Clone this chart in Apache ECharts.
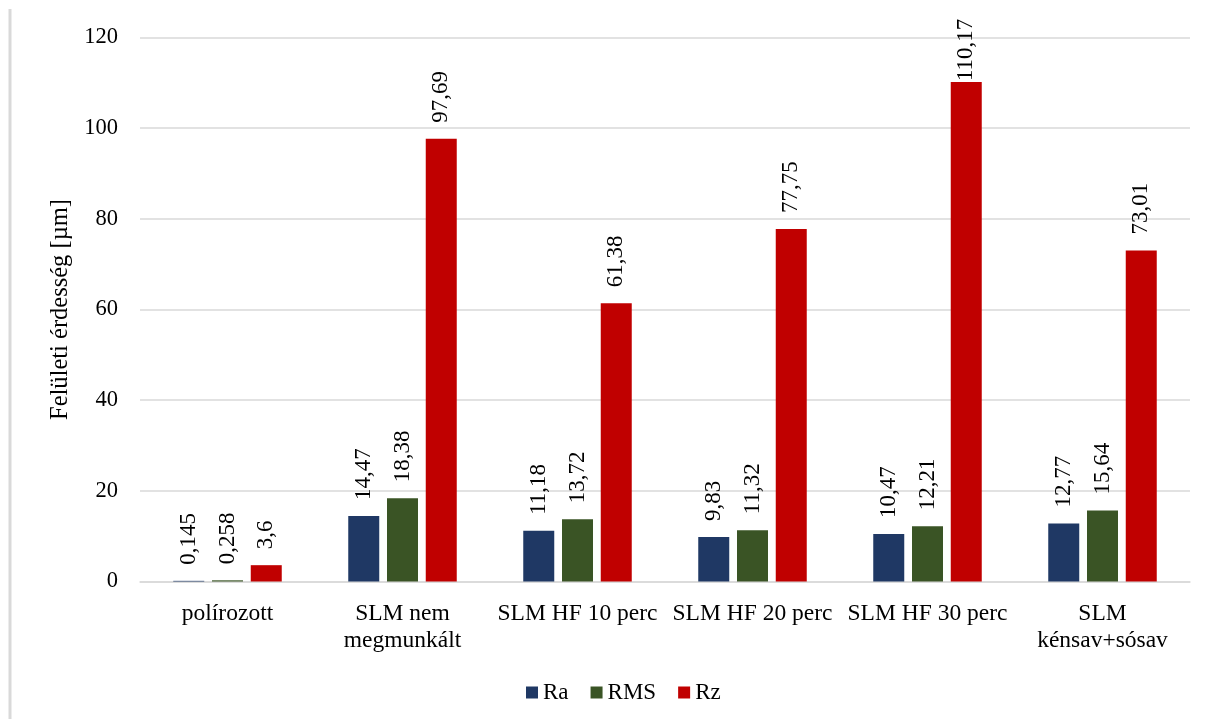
<!DOCTYPE html>
<html>
<head>
<meta charset="utf-8">
<script src="https://cdn.jsdelivr.net/npm/echarts@6/dist/echarts.min.js"></script>
<style>
  html, body { margin: 0; padding: 0; background: #fff; }
  #chart { width: 1213px; height: 719px; }
</style>
</head>
<body>
<div id="chart"></div>
<script>
// Surface roughness per treatment (µm)
const categories = [
  'polírozott',
  'SLM nem\nmegmunkált',
  'SLM HF 10 perc',
  'SLM HF 20 perc',
  'SLM HF 30 perc',
  'SLM\nkénsav+sósav'
];
const raValues  = [0.145, 14.47, 11.18, 9.83, 10.47, 12.77];
const rmsValues = [0.258, 18.38, 13.72, 11.32, 12.21, 15.64];
const rzValues  = [3.6, 97.69, 61.38, 77.75, 110.17, 73.01];
const yTicks = { min: 0, max: 120, interval: 20 };

const FONT = '"Liberation Serif", "Times New Roman", serif';
const fmt = v => String(v).replace('.', ',');

// Labels on the tallest bars are pulled down so they stay inside the chart
const LABEL_GAP = 16;
const TALL_LIMIT = 105;

function barSeries(name, data, color) {
  return {
    name: name,
    type: 'bar',
    data: data.map(v => v > TALL_LIMIT
      ? { value: v, label: { distance: 1 } }
      : v),
    barWidth: 31,
    barGap: '25%',
    itemStyle: { color: color },
    label: {
      show: true,
      position: 'top',
      rotate: 90,
      align: 'left',
      verticalAlign: 'middle',
      distance: LABEL_GAP,
      fontFamily: FONT,
      fontSize: 23,
      color: '#000',
      formatter: p => fmt(p.value)
    }
  };
}

const chart = echarts.init(document.getElementById('chart'), null, { renderer: 'canvas' });
chart.setOption({
  animation: false,
  backgroundColor: '#fff',
  textStyle: { fontFamily: FONT },
  grid: { left: 140, right: 23, top: 37.5, bottom: 137.5, containLabel: false },
  legend: {
    data: ['Ra', 'RMS', 'Rz'],
    left: 521,
    top: 676,
    icon: 'rect',
    itemWidth: 12,
    itemHeight: 12,
    itemGap: 22,
    textStyle: { fontFamily: FONT, fontSize: 23, color: '#000' }
  },
  xAxis: {
    type: 'category',
    data: categories,
    axisLine: { lineStyle: { color: '#d9d9d9', width: 1.5 } },
    axisTick: { show: false },
    axisLabel: {
      interval: 0,
      margin: 19,
      fontFamily: FONT,
      fontSize: 23.5,
      lineHeight: 27,
      color: '#000'
    }
  },
  yAxis: {
    type: 'value',
    min: yTicks.min,
    max: yTicks.max,
    interval: yTicks.interval,
    name: 'Felületi érdesség [µm]',
    nameLocation: 'middle',
    nameGap: 65,
    nameTextStyle: { fontFamily: FONT, fontSize: 24.5, color: '#000' },
    axisLine: { show: false },
    axisTick: { show: false },
    axisLabel: { margin: 22, fontFamily: FONT, fontSize: 22.5, color: '#000' },
    splitLine: { lineStyle: { color: '#d9d9d9', width: 1.5 } }
  },
  graphic: [{
    type: 'line',
    shape: { x1: 10, y1: 9, x2: 10, y2: 719 },
    style: { stroke: '#d9d9d9', lineWidth: 3 },
    silent: true
  }],
  series: [
    barSeries('Ra', raValues, '#1f3864'),
    barSeries('RMS', rmsValues, '#3a5425'),
    barSeries('Rz', rzValues, '#c00000')
  ]
});
</script>
</body>
</html>
